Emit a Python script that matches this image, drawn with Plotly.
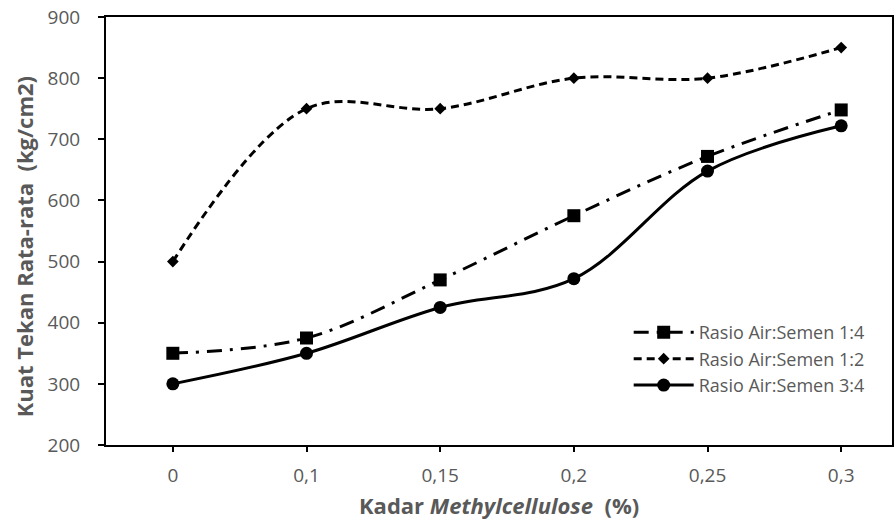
import plotly.graph_objects as go

categories = ["0", "0,1", "0,15", "0,2", "0,25", "0,3"]
ratio_1_4 = [350, 375, 470, 575, 672, 748]
ratio_1_2 = [500, 750, 750, 800, 800, 850]
ratio_3_4 = [300, 350, 425, 472, 648, 722]

FONT = "'Open Sans', sans-serif"
GRAY = "#595959"

fig = go.Figure()
fig.add_trace(go.Scatter(
    x=categories, y=ratio_1_4, name="Rasio Air:Semen 1:4", mode="lines+markers",
    line=dict(color="black", width=3, dash="15px,8px,3px,8px", shape="spline", smoothing=1),
    marker=dict(symbol="square", size=13, color="black"),
))
fig.add_trace(go.Scatter(
    x=categories, y=ratio_1_2, name="Rasio Air:Semen 1:2", mode="lines+markers",
    line=dict(color="black", width=3, dash="8px,5px", shape="spline", smoothing=1),
    marker=dict(symbol="diamond", size=9, color="black"),
))
fig.add_trace(go.Scatter(
    x=categories, y=ratio_3_4, name="Rasio Air:Semen 3:4", mode="lines+markers",
    line=dict(color="black", width=3, shape="spline", smoothing=1),
    marker=dict(symbol="circle", size=13, color="black"),
))

fig.update_layout(
    width=894, height=524,
    margin=dict(l=106, r=0, t=17, b=79),
    paper_bgcolor="white", plot_bgcolor="white",
    font=dict(family=FONT, color=GRAY, size=19),
    legend=dict(x=0.665, y=0.306, xanchor="left", yanchor="top",
                font=dict(size=18, color=GRAY, family=FONT), bgcolor="rgba(0,0,0,0)",
                tracegroupgap=0, itemwidth=60),
    showlegend=True,
    annotations=[
        dict(text="<b>Kadar <i>Methylcellulose</i>  (%)</b>", xref="paper", yref="paper",
             x=0.5, y=-0.140, xanchor="center", yanchor="middle", showarrow=False,
             font=dict(size=22, color=GRAY, family=FONT)),
        dict(text="<b>Kuat Tekan Rata-rata  (kg/cm2)</b>", xref="paper", yref="paper",
             x=-0.104, y=0.4626, xanchor="center", yanchor="middle", showarrow=False,
             textangle=-90, font=dict(size=22, color=GRAY, family=FONT)),
    ],
)
fig.update_xaxes(
    type="category", range=[-0.5, 5.38],
    showline=True, linecolor="black", linewidth=2, mirror=True,
    ticks="outside", ticklen=5, tickcolor="black", tickwidth=1.5,
    showgrid=False, zeroline=False, ticklabelstandoff=7,
    tickfont=dict(size=19, color=GRAY, family=FONT),
)
fig.update_yaxes(
    range=[200, 900], dtick=100,
    showline=True, linecolor="black", linewidth=2, mirror=True,
    ticks="outside", ticklen=6, tickcolor="black", tickwidth=1.5,
    showgrid=False, zeroline=False, ticklabelstandoff=14,
    tickfont=dict(size=19, color=GRAY, family=FONT),
)

fig.write_html("out.html")
